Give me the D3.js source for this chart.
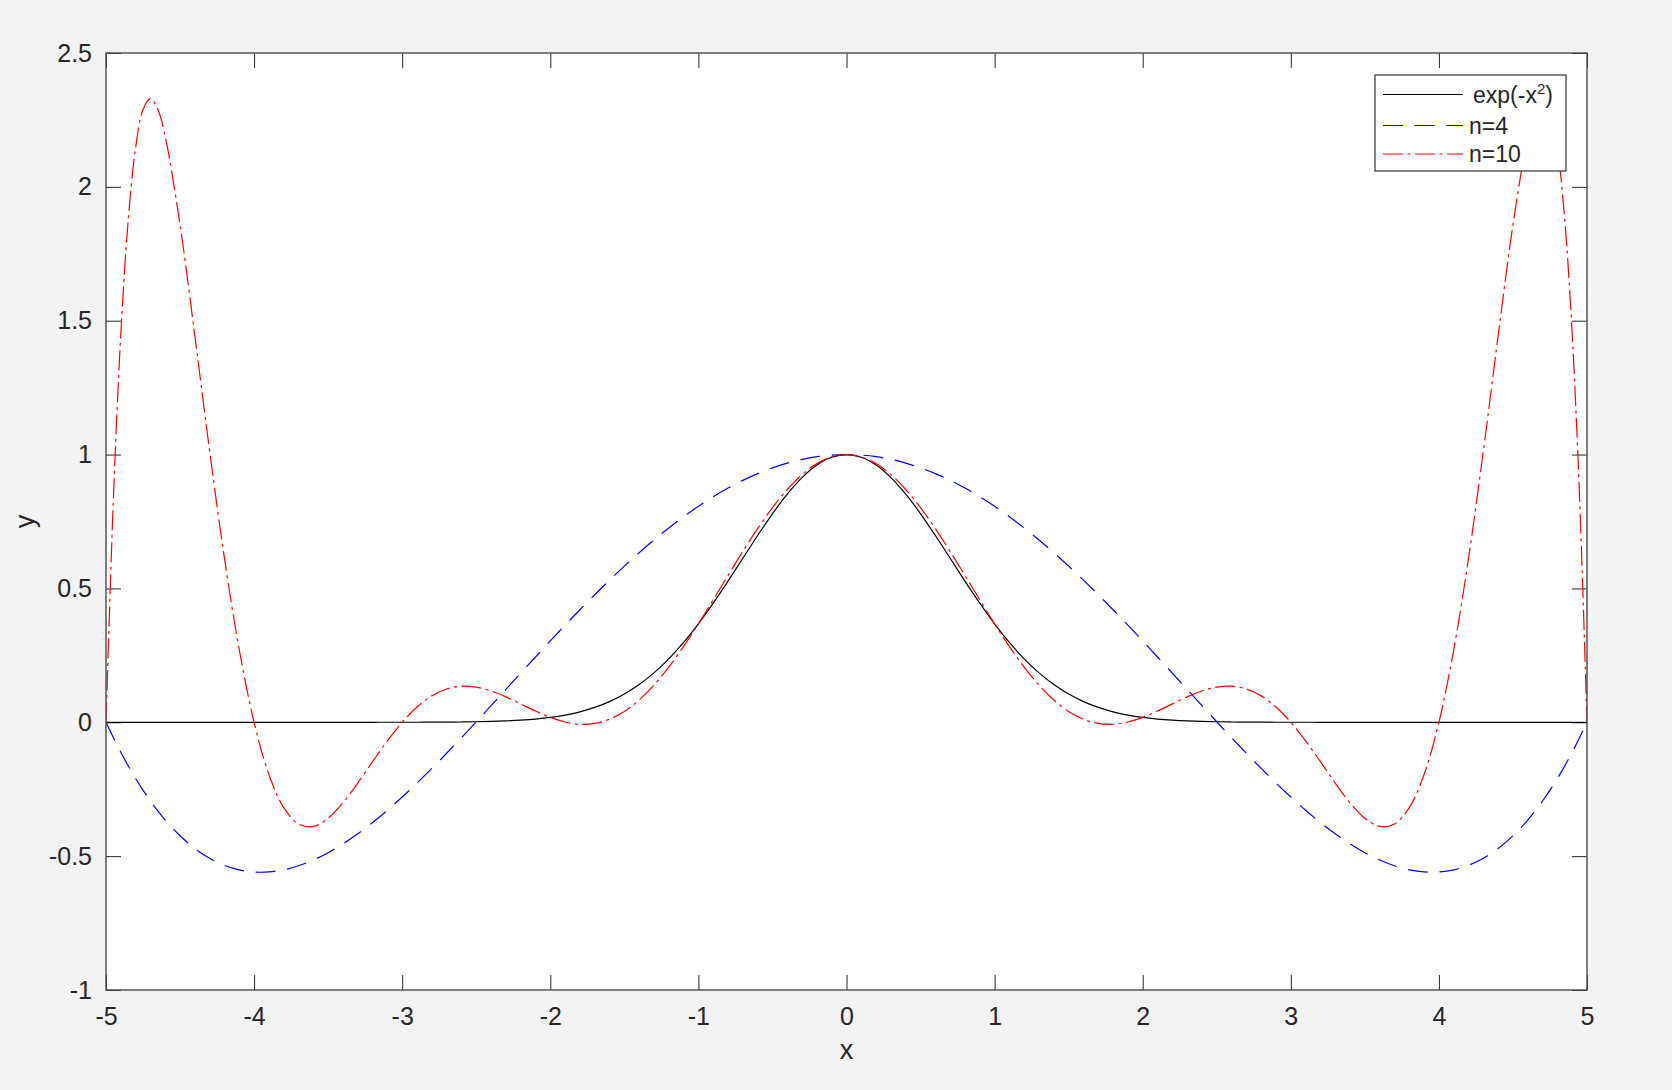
<!DOCTYPE html>
<html><head><meta charset="utf-8">
<script src="https://cdn.jsdelivr.net/npm/d3@7"></script>
<style>
html,body{margin:0;padding:0;background:#f3f3f3;}
svg{display:block;font-family:"Liberation Sans",Arial,Helvetica,sans-serif;}
</style>
</head><body>
<svg id="chart" width="1672" height="1090"></svg>
<script>
// ---- data ----
const xGrid = [-5,-4.9,-4.8,-4.7,-4.6,-4.5,-4.4,-4.3,-4.2,-4.1,-4,-3.9,-3.8,-3.7,-3.6,-3.5,-3.4,-3.3,-3.2,-3.1,-3,-2.9,-2.8,-2.7,-2.6,-2.5,-2.4,-2.3,-2.2,-2.1,-2,-1.9,-1.8,-1.7,-1.6,-1.5,-1.4,-1.3,-1.2,-1.1,-1,-0.9,-0.8,-0.7,-0.6,-0.5,-0.4,-0.3,-0.2,-0.1,0,0.1,0.2,0.3,0.4,0.5,0.6,0.7,0.8,0.9,1,1.1,1.2,1.3,1.4,1.5,1.6,1.7,1.8,1.9,2,2.1,2.2,2.3,2.4,2.5,2.6,2.7,2.8,2.9,3,3.1,3.2,3.3,3.4,3.5,3.6,3.7,3.8,3.9,4,4.1,4.2,4.3,4.4,4.5,4.6,4.7,4.8,4.9,5];

const expVals = [0,0,0,0,0,0,0,0,0,0,0,0,0,0,0,0,0.00001,0.00002,0.00004,0.00007,0.00012,0.00022,0.00039,0.00068,0.00116,0.00193,0.00315,0.00504,0.00791,0.01216,0.01832,0.02705,0.03916,0.05558,0.07730,0.10540,0.14086,0.18452,0.23693,0.29820,0.36788,0.44486,0.52729,0.61263,0.69768,0.77880,0.85214,0.91393,0.96079,0.99005,1,0.99005,0.96079,0.91393,0.85214,0.77880,0.69768,0.61263,0.52729,0.44486,0.36788,0.29820,0.23693,0.18452,0.14086,0.10540,0.07730,0.05558,0.03916,0.02705,0.01832,0.01216,0.00791,0.00504,0.00315,0.00193,0.00116,0.00068,0.00039,0.00022,0.00012,0.00007,0.00004,0.00002,0.00001,0,0,0,0,0,0,0,0,0,0,0,0,0,0,0,0,0];

const n4Vals = [0,-0.11214,-0.20987,-0.29394,-0.36509,-0.42402,-0.47142,-0.50799,-0.53438,-0.55125,-0.55923,-0.55894,-0.55100,-0.53598,-0.51447,-0.48703,-0.45419,-0.41648,-0.37442,-0.32851,-0.27923,-0.22704,-0.17241,-0.11574,-0.05750,0.00193,0.06217,0.12282,0.18353,0.24397,0.30378,0.36268,0.42035,0.47651,0.53089,0.58324,0.63333,0.68093,0.72583,0.76784,0.80680,0.84252,0.87488,0.90373,0.92898,0.95050,0.96823,0.98209,0.99203,0.99800,1,0.99800,0.99203,0.98209,0.96823,0.95050,0.92898,0.90373,0.87488,0.84252,0.80680,0.76784,0.72583,0.68093,0.63333,0.58324,0.53089,0.47651,0.42035,0.36268,0.30378,0.24397,0.18353,0.12282,0.06217,0.00193,-0.05750,-0.11574,-0.17241,-0.22704,-0.27923,-0.32851,-0.37442,-0.41648,-0.45419,-0.48703,-0.51447,-0.53598,-0.55100,-0.55894,-0.55923,-0.55125,-0.53438,-0.50799,-0.47142,-0.42402,-0.36509,-0.29394,-0.20987,-0.11214,0];

const n10X = [-5,-4.95,-4.9,-4.85,-4.8,-4.75,-4.7,-4.65,-4.6,-4.5,-4.4,-4.3,-4.2,-4.1,-4,-3.9,-3.8,-3.7,-3.6,-3.5,-3.4,-3.3,-3.2,-3.1,-3,-2.9,-2.8,-2.7,-2.6,-2.5,-2.4,-2.3,-2.2,-2.1,-2,-1.9,-1.8,-1.7,-1.6,-1.5,-1.4,-1.3,-1.2,-1.1,-1,-0.9,-0.8,-0.7,-0.6,-0.5,-0.4,-0.3,-0.2,-0.1,0,0.1,0.2,0.3,0.4,0.5,0.6,0.7,0.8,0.9,1,1.1,1.2,1.3,1.4,1.5,1.6,1.7,1.8,1.9,2,2.1,2.2,2.3,2.4,2.5,2.6,2.7,2.8,2.9,3,3.1,3.2,3.3,3.4,3.5,3.6,3.7,3.8,3.9,4,4.1,4.2,4.3,4.4,4.5,4.6,4.65,4.7,4.75,4.8,4.85,4.9,4.95,5];

const n10Vals = [0,0.83712,1.45014,1.87578,2.14567,2.28877,2.32946,2.28941,2.18733,1.85827,1.44322,1.01245,0.61223,0.27024,0,-0.19514,-0.31897,-0.37989,-0.38906,-0.35865,-0.30090,-0.22711,-0.14722,-0.06939,0.00012,0.05699,0.09870,0.12442,0.13474,0.13140,0.11706,0.09497,0.06871,0.04198,0.01832,0.00096,-0.00734,-0.00440,0.01126,0.04043,0.08318,0.13886,0.20619,0.28331,0.36788,0.45719,0.54829,0.63809,0.72350,0.80156,0.86955,0.92508,0.96621,0.99148,1,0.99148,0.96621,0.92508,0.86955,0.80156,0.72350,0.63809,0.54829,0.45719,0.36788,0.28331,0.20619,0.13886,0.08318,0.04043,0.01126,-0.00440,-0.00734,0.00096,0.01832,0.04198,0.06871,0.09497,0.11706,0.13140,0.13474,0.12442,0.09870,0.05699,0.00012,-0.06939,-0.14722,-0.22711,-0.30090,-0.35865,-0.38906,-0.37989,-0.31897,-0.19514,0,0.27024,0.61223,1.01245,1.44322,1.85827,2.18733,2.28941,2.32946,2.28877,2.14567,1.87578,1.45014,0.83712,0];

const xTicks = [-5,-4,-3,-2,-1,0,1,2,3,4,5];
const xTickLabels = ["-5","-4","-3","-2","-1","0","1","2","3","4","5"];
const yTicks = [-1,-0.5,0,0.5,1,1.5,2,2.5];
const yTickLabels = ["-1","-0.5","0","0.5","1","1.5","2","2.5"];
const legendNames = ["n=4","n=10"];

// ---- layout ----
const L = 106, R = 1587, T = 53, B = 990;
const axisColor = "#262626";
const svg = d3.select("#chart");
const x = d3.scaleLinear().domain([-5,5]).range([L,R]);
const y = d3.scaleLinear().domain([-1,2.5]).range([B,T]);

svg.append("rect").attr("x",L).attr("y",T).attr("width",R-L).attr("height",B-T).attr("fill","#ffffff");

function styleAxis(g, fs){
  g.select(".domain").remove();
  g.selectAll(".tick line").attr("stroke",axisColor).attr("stroke-width",1);
  g.selectAll(".tick text").attr("fill",axisColor).style("font-size",fs+"px")
    .style("font-family",'"Liberation Sans",Arial,Helvetica,sans-serif');
}
const tl = 15;
svg.append("g").attr("transform",`translate(0,${B})`)
  .call(d3.axisBottom(x).tickValues(xTicks).tickFormat((d,i)=>xTickLabels[i]).tickSizeInner(-tl).tickSizeOuter(0).tickPadding(17))
  .call(g=>styleAxis(g,25));
svg.append("g").attr("transform",`translate(0,${T})`)
  .call(d3.axisTop(x).tickValues(xTicks).tickFormat(()=>"").tickSizeInner(-tl).tickSizeOuter(0))
  .call(g=>styleAxis(g,25));
svg.append("g").attr("transform",`translate(${L},0)`)
  .call(d3.axisLeft(y).tickValues(yTicks).tickFormat((d,i)=>yTickLabels[i]).tickSizeInner(-tl).tickSizeOuter(0).tickPadding(14))
  .call(g=>styleAxis(g,25));
svg.append("g").attr("transform",`translate(${R},0)`)
  .call(d3.axisRight(y).tickValues(yTicks).tickFormat(()=>"").tickSizeInner(-tl).tickSizeOuter(0))
  .call(g=>styleAxis(g,25));

// clip
svg.append("clipPath").attr("id","plotclip").append("rect")
  .attr("x",L).attr("y",T).attr("width",R-L).attr("height",B-T);

const line = d3.line().x(d=>x(d[0])).y(d=>y(d[1])).curve(d3.curveCatmullRom.alpha(0.5));
const plotG = svg.append("g").attr("clip-path","url(#plotclip)");

const series = [
  {xs:xGrid, ys:expVals, color:"#000000", dash:null},
  {xs:xGrid, ys:n4Vals, color:"#0000ff", dash:"20,11.7"},
  {xs:n10X, ys:n10Vals, color:"#ff0000", dash:"20,4.5,3,4.5"}
];
series.forEach(s=>{
  plotG.append("path")
    .datum(s.xs.map((v,i)=>[v,s.ys[i]]))
    .attr("d",line)
    .attr("fill","none")
    .attr("stroke",s.color)
    .attr("stroke-width",1.2)
    .attr("stroke-dasharray",s.dash);
});

// box
svg.append("rect").attr("x",L).attr("y",T).attr("width",R-L).attr("height",B-T)
  .attr("fill","none").attr("stroke","#4a4a4a").attr("stroke-width",1.4);

// axis labels
svg.append("text").attr("x",(L+R)/2).attr("y",1059).attr("text-anchor","middle")
  .attr("fill",axisColor).style("font-size","27px").text("x");
svg.append("text").attr("transform",`translate(34,${(T+B)/2}) rotate(-90)`).attr("text-anchor","middle")
  .attr("fill",axisColor).style("font-size","27px").text("y");

// legend
const lg = svg.append("g");
lg.append("rect").attr("x",1375).attr("y",75).attr("width",191).attr("height",96)
  .attr("fill","#ffffff").attr("stroke","#333333").attr("stroke-width",1.2);
const rowsY = [94.5,125.5,154];
const baseY = [103,134,162];
series.forEach((s,i)=>{
  lg.append("line").attr("x1",1383).attr("x2",1463).attr("y1",rowsY[i]).attr("y2",rowsY[i])
    .attr("stroke",s.color).attr("stroke-width",1.2).attr("stroke-dasharray",s.dash);
});
const t0 = lg.append("text").attr("x",1473).attr("y",baseY[0]).attr("fill",axisColor).style("font-size","23px");
t0.append("tspan").text("exp(-x");
t0.append("tspan").attr("dy",-9).style("font-size","15px").text("2");
t0.append("tspan").attr("dy",9).text(")");
legendNames.forEach((n,i)=>{
  lg.append("text").attr("x",1469).attr("y",baseY[i+1]).attr("fill",axisColor).style("font-size","23px").text(n);
});
</script>
</body></html>
